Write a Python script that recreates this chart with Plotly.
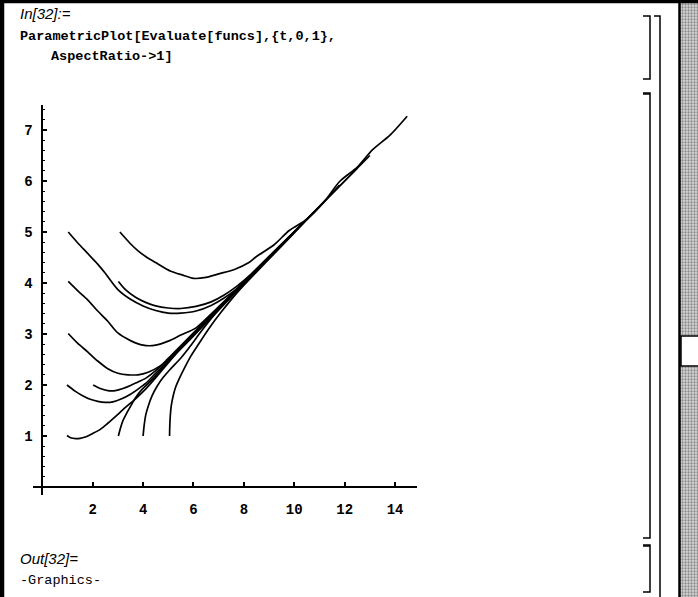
import plotly.graph_objects as go

# ---- data: each solution curve as (x, y) lists ----
curve_11_x = [0.98, 1.15, 1.32, 1.5, 1.7, 2.0, 2.3, 2.6, 2.9, 3.3, 3.7, 4.1, 4.6, 5.2, 6.0, 7.0, 8.0]
curve_11_y = [1.01, 0.96, 0.95, 0.955, 0.98, 1.05, 1.13, 1.25, 1.38, 1.56, 1.73, 1.92, 2.2, 2.55, 3.0, 3.5, 4.0]

curve_12_x = [0.98, 1.3, 1.6, 1.9, 2.2, 2.5, 2.8, 3.15, 3.5, 3.8, 4.1, 4.5, 5.0, 6.0, 7.0, 8.5]
curve_12_y = [2.0, 1.88, 1.79, 1.72, 1.68, 1.66, 1.67, 1.73, 1.82, 1.92, 2.03, 2.23, 2.48, 2.99, 3.5, 4.24]

curve_22_x = [2.02, 2.3, 2.6, 2.9, 3.2, 3.5, 3.8, 4.1, 4.5, 5.0, 6.0, 7.0, 8.0, 9.5]
curve_22_y = [2.0, 1.93, 1.89, 1.89, 1.93, 1.99, 2.06, 2.13, 2.28, 2.52, 3.02, 3.52, 4.02, 4.76]

curve_13_x = [1.03, 1.4, 1.8, 2.2, 2.6, 3.0, 3.4, 3.8, 4.2, 4.7, 5.2, 5.8, 6.5, 7.5, 8.5, 10.0]
curve_13_y = [3.01, 2.82, 2.65, 2.47, 2.32, 2.23, 2.2, 2.2, 2.25, 2.38, 2.57, 2.86, 3.22, 3.74, 4.25, 5.0]

curve_14_x = [1.03, 1.4, 1.8, 2.2, 2.6, 3.0, 3.5, 4.0, 4.5, 5.0, 5.5, 6.1, 6.8, 7.5, 8.5, 9.5, 11.0]
curve_14_y = [4.03, 3.85, 3.67, 3.45, 3.25, 3.02, 2.87, 2.78, 2.78, 2.86, 2.98, 3.12, 3.44, 3.77, 4.27, 4.76, 5.5]

curve_15_x = [1.03, 1.4, 1.8, 2.2, 2.5, 3.0, 3.5, 4.0, 4.5, 5.0, 5.5, 6.1, 6.7, 7.2, 7.7, 8.3, 9.0, 10.0, 11.0, 12.5]
curve_15_y = [5.0, 4.79, 4.58, 4.37, 4.19, 3.87, 3.68, 3.55, 3.46, 3.41, 3.41, 3.45, 3.56, 3.70, 3.88, 4.15, 4.5, 5.0, 5.5, 6.25]

curve_34_x = [3.02, 3.3, 3.7, 4.1, 4.5, 5.0, 5.5, 6.1, 6.7, 7.2, 7.7, 8.3, 9.0, 10.0, 11.5, 13.0]
curve_34_y = [4.03, 3.87, 3.72, 3.62, 3.55, 3.51, 3.50, 3.54, 3.63, 3.76, 3.93, 4.18, 4.52, 5.01, 5.75, 6.5]

curve_35_x = [3.08, 3.5, 3.8, 4.1, 4.5, 5.1, 5.6, 6.0, 6.5, 7.0, 7.6, 8.2, 8.5, 9.2, 9.8, 10.5, 11.2, 11.8, 12.5, 13.1, 13.8, 14.48]
curve_35_y = [5.0, 4.77, 4.63, 4.52, 4.40, 4.23, 4.15, 4.09, 4.11, 4.18, 4.26, 4.40, 4.52, 4.75, 5.03, 5.25, 5.6, 5.99, 6.27, 6.61, 6.9, 7.27]

curve_31_x = [3.02, 3.1, 3.2, 3.35, 3.5, 3.7, 3.95, 4.3, 4.8, 5.5, 6.5, 7.5, 9.0]
curve_31_y = [1.0, 1.15, 1.3, 1.45, 1.58, 1.75, 1.91, 2.08, 2.35, 2.73, 3.24, 3.74, 4.5]

curve_41_x = [4.0, 4.04, 4.1, 4.2, 4.35, 4.55, 4.8, 5.1, 5.5, 5.9, 6.3, 6.8, 7.5, 8.5, 10.5]
curve_41_y = [1.0, 1.2, 1.4, 1.58, 1.78, 1.97, 2.15, 2.32, 2.53, 2.78, 3.05, 3.36, 3.73, 4.24, 5.25]

curve_51_x = [5.05, 5.06, 5.08, 5.12, 5.2, 5.3, 5.45, 5.65, 5.9, 6.2, 6.6, 7.1, 7.8, 8.8, 10.0, 11.8]
curve_51_y = [1.0, 1.2, 1.4, 1.6, 1.8, 1.97, 2.14, 2.34, 2.57, 2.8, 3.1, 3.43, 3.85, 4.37, 4.98, 5.92]

x_tick_vals = [2, 4, 6, 8, 10, 12, 14]
y_tick_vals = [1, 2, 3, 4, 5, 6, 7]

curves = [
    (curve_11_x, curve_11_y), (curve_12_x, curve_12_y), (curve_22_x, curve_22_y),
    (curve_13_x, curve_13_y), (curve_14_x, curve_14_y), (curve_15_x, curve_15_y),
    (curve_34_x, curve_34_y), (curve_35_x, curve_35_y), (curve_31_x, curve_31_y),
    (curve_41_x, curve_41_y), (curve_51_x, curve_51_y),
]

W, H = 698, 597
PL, PR, PT, PB = 33, 417, 105, 495   # plot area in pixels


def px(X):
    return X / W


def py(Y):
    return 1 - Y / H


fig = go.Figure()
for cx, cy in curves:
    fig.add_trace(go.Scatter(x=cx, y=cy, mode="lines",
                             line=dict(color="black", width=1.7, shape="spline", smoothing=0.8),
                             hoverinfo="skip", showlegend=False))


# ---- notebook window decoration drawn on a full-page overlay axis (pixel units) ----
def deco_rect(x0, y0, x1, y1, fill, pattern=None):
    kw = {}
    if pattern:
        kw["fillpattern"] = pattern
    fig.add_trace(go.Scatter(x=[x0, x1, x1, x0, x0], y=[y0, y0, y1, y1, y0],
                             mode="lines", fill="toself", fillcolor=fill,
                             line=dict(color=fill, width=0.5),
                             xaxis="x2", yaxis="y2", hoverinfo="skip", showlegend=False, **kw))


def deco_line(xs, ys, w=1.5):
    fig.add_trace(go.Scatter(x=xs, y=ys, mode="lines", line=dict(color="black", width=w),
                             xaxis="x2", yaxis="y2", hoverinfo="skip", showlegend=False))


deco_rect(680, 0, 698, 597, "#9a9a9a",
          dict(shape=".", fgcolor="#3a3a3a", bgcolor="#d8d8d8", size=3, solidity=0.45))
deco_rect(681, 336, 698, 366, "white")
deco_line([698, 681, 681, 698], [336, 336, 366, 366], 1.5)
deco_rect(678.5, 0, 680.5, 597, "black")
deco_rect(0, 0, 698, 3, "black")
deco_rect(0, 0, 4, 597, "black")

# cell brackets
deco_line([654, 660, 660], [16, 16, 597])
deco_line([643, 650, 650, 643], [16, 16, 79, 79])
deco_line([643, 650, 650, 643], [93, 93, 538, 538])
deco_line([643, 650], [94, 94], 1.5)
deco_line([643, 650, 650, 643], [545, 545, 592, 592])
deco_line([643, 650], [546, 546], 1.5)

tickfont = dict(family="Liberation Mono", size=14, color="black", weight="bold")

fig.update_layout(
    width=W, height=H,
    margin=dict(l=0, r=0, t=0, b=0, pad=0),
    paper_bgcolor="white", plot_bgcolor="rgba(0,0,0,0)",
    showlegend=False,
    xaxis=dict(domain=[px(PL), px(PR)], range=[-0.369, 14.87], anchor="free", position=py(487),
               showline=True, linecolor="black", linewidth=1.5,
               showgrid=False, zeroline=False,
               tickmode="array", tickvals=x_tick_vals, ticktext=[str(v) for v in x_tick_vals],
               ticks="inside", ticklen=4, tickwidth=1.5, tickcolor="black",
               tickfont=tickfont, ticklabelstandoff=9, automargin=False),
    yaxis=dict(domain=[py(PB), py(PT)], range=[-0.157, 7.49], anchor="free", position=px(42.3),
               showline=True, linecolor="black", linewidth=1.5,
               showgrid=False, zeroline=False,
               tickmode="array", tickvals=y_tick_vals, ticktext=[str(v) for v in y_tick_vals],
               ticks="inside", ticklen=4, tickwidth=1.5, tickcolor="black",
               minor=dict(ticks="inside", ticklen=2, tickwidth=1, tickcolor="black",
                          dtick=0.2, tick0=0, showgrid=False),
               tickfont=tickfont, ticklabelstandoff=6, automargin=False),
    xaxis2=dict(domain=[0, 1], range=[0, W], anchor="y2", visible=False, fixedrange=True),
    yaxis2=dict(domain=[0, 1], range=[H, 0], anchor="x2", visible=False, fixedrange=True),
)

anns = [
    dict(text="<i>In[32]:=</i>", X=18, Y=14,
         font=dict(family="Liberation Sans", size=15, color="black")),
    dict(text="ParametricPlot[Evaluate[funcs],{t,0,1},", X=18, Y=36,
         font=dict(family="Liberation Mono", size=13.5, color="black", weight="bold")),
    dict(text="AspectRatio->1]", X=49, Y=57,
         font=dict(family="Liberation Mono", size=13.5, color="black", weight="bold")),
    dict(text="<i>Out[32]=</i>", X=18, Y=558,
         font=dict(family="Liberation Sans", size=15, color="black")),
    dict(text="-Graphics-", X=18, Y=580,
         font=dict(family="Liberation Mono", size=13.5, color="black")),
]
for a in anns:
    fig.add_annotation(text=a["text"], xref="paper", yref="paper",
                       x=px(a["X"]), y=py(a["Y"]), xanchor="left", yanchor="middle",
                       showarrow=False, font=a["font"])

fig.write_html("out.html", config={"displayModeBar": False},
               post_script="document.body.style.margin='0';document.body.style.overflow='hidden';")
